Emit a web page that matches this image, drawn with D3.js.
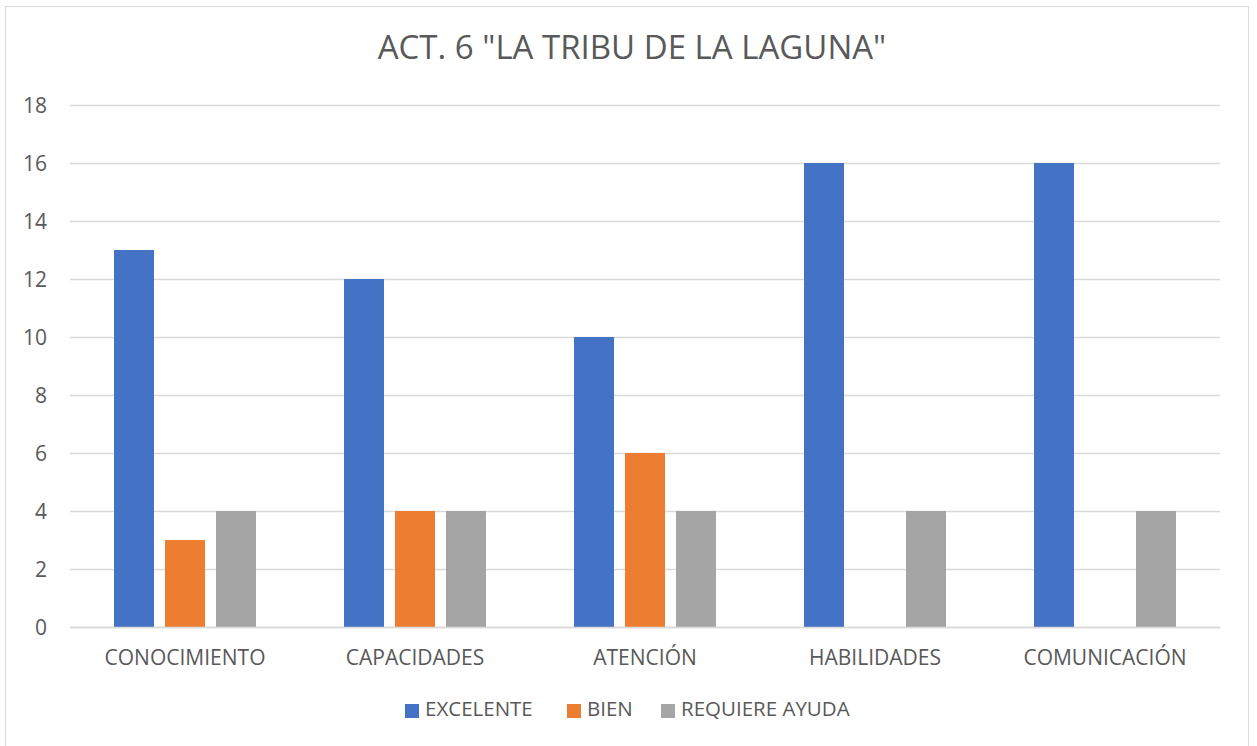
<!DOCTYPE html>
<html>
<head>
<meta charset="utf-8">
<script src="https://cdn.jsdelivr.net/npm/d3@7"></script>
<style>
  html, body { margin: 0; padding: 0; background: #fff; }
  svg text { font-family: "Open Sans", Lato, "Liberation Sans", sans-serif; fill: #595959; }
</style>
</head>
<body>
<svg id="chart" width="1257" height="746"></svg>
<script>
const categories = ["CONOCIMIENTO", "CAPACIDADES", "ATENCIÓN", "HABILIDADES", "COMUNICACIÓN"];
const seriesNames = ["EXCELENTE", "BIEN", "REQUIERE AYUDA"];
const excelente = [13, 12, 10, 16, 16];
const bien = [3, 4, 6, 0, 0];
const requiereAyuda = [4, 4, 4, 4, 4];
const yTicks = [0, 2, 4, 6, 8, 10, 12, 14, 16, 18];
const colors = ["#4472C4", "#ED7D31", "#A5A5A5"];

const seriesValues = [excelente, bien, requiereAyuda];
const rows = categories.map((c, i) => ({
  category: c,
  values: seriesNames.map((s, k) => ({ series: s, value: seriesValues[k][i] }))
}));

const svg = d3.select("#chart");

// outer frame
svg.append("rect")
  .attr("x", 5.5).attr("y", 6.5).attr("width", 1243).attr("height", 760)
  .attr("fill", "#fff").attr("stroke", "#d9d9d9").attr("stroke-width", 1);

const plot = { left: 70, right: 1220, top: 105, bottom: 627 };

const x0 = d3.scaleBand()
  .domain(categories)
  .range([plot.left, plot.right])
  .paddingInner(0.3826)
  .paddingOuter(0.1913);

const x1 = d3.scaleBand()
  .domain(seriesNames)
  .range([0, x0.bandwidth()])
  .paddingInner(0.2157)
  .paddingOuter(0);

const y = d3.scaleLinear().domain([0, 18]).range([plot.bottom, plot.top]);

// gridlines
svg.append("g")
  .selectAll("line")
  .data(yTicks)
  .join("line")
  .attr("x1", plot.left).attr("x2", plot.right)
  .attr("y1", d => y(d) + 0.5).attr("y2", d => y(d) + 0.5)
  .attr("stroke", "#d9d9d9").attr("stroke-width", 1.3);

// y axis labels
const yAxis = d3.axisLeft(y).tickValues(yTicks).tickSize(0).tickPadding(0);
const yg = svg.append("g").attr("transform", `translate(${47},0)`).call(yAxis);
yg.select(".domain").remove();
yg.selectAll("text")
  .attr("font-size", 21).attr("fill", "#595959")
  .style("font-family", "'Open Sans', Lato, sans-serif")
  .attr("dy", "0.35em");

// bars
const groups = svg.append("g")
  .selectAll("g")
  .data(rows)
  .join("g")
  .attr("transform", d => `translate(${x0(d.category)},0)`);

groups.selectAll("rect")
  .data(d => d.values)
  .join("rect")
  .attr("x", d => x1(d.series))
  .attr("width", x1.bandwidth())
  .attr("y", d => y(d.value))
  .attr("height", d => y(0) - y(d.value))
  .attr("fill", (d, i) => colors[i]);

// category axis
const xAxis = d3.axisBottom(x0).tickSize(0).tickPadding(0);
const xg = svg.append("g").attr("transform", `translate(0,${plot.bottom})`).call(xAxis);
xg.select(".domain").attr("stroke", "#d9d9d9").attr("stroke-width", 1.3);
xg.selectAll("text")
  .attr("font-size", 21).attr("fill", "#595959")
  .style("font-family", "'Open Sans', Lato, sans-serif")
  .attr("y", 31).attr("dy", "0.35em");

// title
svg.append("text")
  .attr("x", 632).attr("y", 50)
  .attr("text-anchor", "middle")
  .attr("dominant-baseline", "middle")
  .attr("font-size", 33)
  .text('ACT. 6 "LA TRIBU DE LA LAGUNA"');

// legend
const legendItems = [
  { name: seriesNames[0], x: 405 },
  { name: seriesNames[1], x: 567 },
  { name: seriesNames[2], x: 661 }
];
const lg = svg.append("g");
legendItems.forEach((it, i) => {
  lg.append("rect")
    .attr("x", it.x).attr("y", 704)
    .attr("width", 14).attr("height", 14)
    .attr("fill", colors[i]);
  lg.append("text")
    .attr("x", it.x + 20).attr("y", 711)
    .attr("dominant-baseline", "middle")
    .attr("font-size", 20.5)
    .text(it.name);
});
</script>
</body>
</html>
